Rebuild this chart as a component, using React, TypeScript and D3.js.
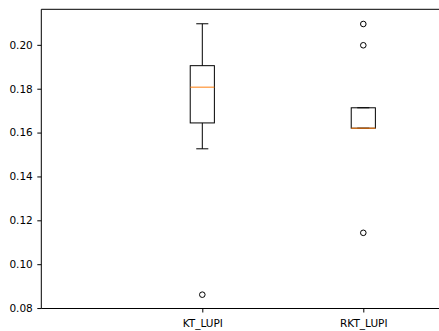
import * as d3 from "d3";
import { useRef, useEffect, useMemo } from "react";

// box statistics
const categories = ["KT_LUPI", "RKT_LUPI"];
const positions = [1, 2];
const whiskerLow = [0.1526, 0.162];
const q1 = [0.1644, 0.162];
const median = [0.1807, 0.162];
const q3 = [0.1905, 0.1713];
const whiskerHigh = [0.2096, 0.1713];
const outliers = [[0.0861], [0.2095, 0.1998, 0.1143]];
const yTicks = [0.08, 0.1, 0.12, 0.14, 0.16, 0.18, 0.2];

const width = 439;
const height = 331;
const marginLeft = 41.3;
const marginTop = 9.3;
const marginBottom = 22.5;
const font = "'DejaVu Sans', sans-serif";

export default function App() {
  const gx = useRef<SVGGElement>(null);
  const gy = useRef<SVGGElement>(null);

  const { x, y } = useMemo(() => {
    const x = d3.scaleLinear().domain([0, 2.5]).range([marginLeft, marginLeft + 2.5 * 161]);
    const y = d3.scaleLinear().domain([0.0798, 0.2162]).range([height - marginBottom, marginTop]);
    return { x, y };
  }, []);

  useEffect(() => {
    if (!gx.current || !gy.current) return;

    d3.select(gx.current)
      .call(
        d3
          .axisBottom(x)
          .tickValues(positions)
          .tickFormat((d, i) => categories[i])
          .tickSize(4)
          .tickPadding(7) as any,
      )
      .call((g) => g.select(".domain").remove())
      .style("font-family", font)
      .style("font-size", "10.5px");

    d3.select(gy.current)
      .call(
        d3
          .axisLeft(y)
          .tickValues(yTicks)
          .tickFormat(d3.format(".2f") as any)
          .tickSize(4)
          .tickPadding(4.5) as any,
      )
      .call((g) => g.select(".domain").remove())
      .style("font-family", font)
      .style("font-size", "10.5px");
  }, [x, y]);

  const boxW = 0.15;
  const bottom = height - marginBottom;

  return (
    <svg
      width={width}
      height={height}
      style={{ position: "absolute", left: 0, top: 0, background: "#fff" }}
    >
      <g ref={gx} transform={`translate(0, ${bottom})`} />
      <g ref={gy} transform={`translate(${marginLeft}, 0)`} />
      <g fill="none" stroke="#000" strokeWidth={1}>
        {positions.map((p, i) => {
          const cx = x(p);
          const half = x(p + boxW / 2) - cx;
          return (
            <g key={categories[i]}>
              <line x1={cx} x2={cx} y1={y(q1[i])} y2={y(whiskerLow[i])} />
              <line x1={cx} x2={cx} y1={y(q3[i])} y2={y(whiskerHigh[i])} />
              <line x1={cx - half / 2} x2={cx + half / 2} y1={y(whiskerLow[i])} y2={y(whiskerLow[i])} />
              <line x1={cx - half / 2} x2={cx + half / 2} y1={y(whiskerHigh[i])} y2={y(whiskerHigh[i])} />
              <rect x={cx - half} y={y(q3[i])} width={half * 2} height={y(q1[i]) - y(q3[i])} />
              <line
                x1={cx - half}
                x2={cx + half}
                y1={y(median[i])}
                y2={y(median[i])}
                stroke="#ff7f0e"
              />
              {outliers[i].map((v, j) => (
                <circle key={j} cx={cx} cy={y(v)} r={2.8} />
              ))}
            </g>
          );
        })}
      </g>
      <g stroke="#000" strokeWidth={1}>
        <line x1={marginLeft} x2={marginLeft} y1={marginTop} y2={bottom} />
        <line x1={marginLeft} x2={width} y1={bottom} y2={bottom} />
        <line x1={marginLeft} x2={width} y1={marginTop} y2={marginTop} />
      </g>
    </svg>
  );
}
